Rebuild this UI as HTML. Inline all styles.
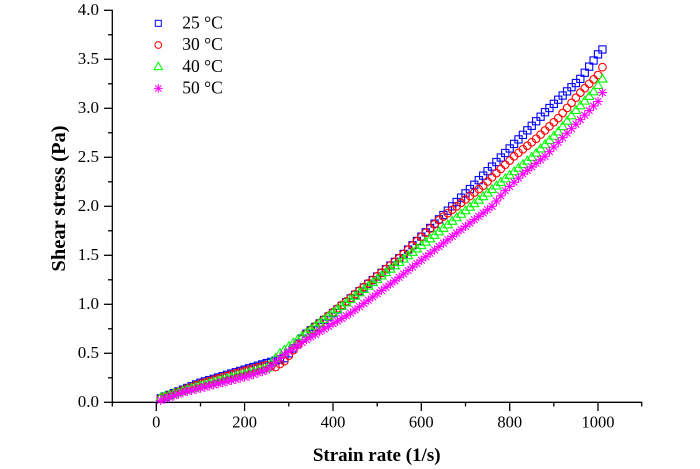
<!DOCTYPE html>
<html><head><meta charset="utf-8"><style>
html,body{margin:0;padding:0;background:#fff;}
svg{display:block;}
text{font-family:"Liberation Serif","Times New Roman",serif;fill:#000;}
</style></head><body>
<svg width="700" height="469" viewBox="0 0 700 469" xmlns="http://www.w3.org/2000/svg">
<defs>
<marker id="ms" markerUnits="userSpaceOnUse" markerWidth="12" markerHeight="12" refX="6" refY="6" viewBox="0 0 12 12" overflow="visible"><rect x="2.4" y="2.4" width="7.2" height="7.2" fill="none" stroke="#0000ff" stroke-width="1.1"/></marker>
<marker id="mc" markerUnits="userSpaceOnUse" markerWidth="12" markerHeight="12" refX="6" refY="6" viewBox="0 0 12 12" overflow="visible"><circle cx="6" cy="6" r="3.8" fill="none" stroke="#ff0000" stroke-width="1.1"/></marker>
<marker id="mt" markerUnits="userSpaceOnUse" markerWidth="12" markerHeight="12" refX="6" refY="6" viewBox="0 0 12 12" overflow="visible"><polygon points="6,1.4 10.5,9.2 1.5,9.2" fill="none" stroke="#00ff00" stroke-width="1.1"/></marker>
<marker id="mx" markerUnits="userSpaceOnUse" markerWidth="12" markerHeight="12" refX="6" refY="6" viewBox="0 0 12 12" overflow="visible"><g stroke="#ff00ff" stroke-width="1.1"><line x1="6" y1="1.3" x2="6" y2="10.7"/><line x1="1.3" y1="6" x2="10.7" y2="6"/><line x1="2.6" y1="2.6" x2="9.4" y2="9.4"/><line x1="2.6" y1="9.4" x2="9.4" y2="2.6"/></g></marker>
</defs>
<rect width="700" height="469" fill="#fff"/>

<!-- axes -->
<g stroke="#000" stroke-width="1.3" fill="none">
<line x1="112.3" y1="9.8" x2="112.3" y2="402.3"/>
<line x1="111.7" y1="402.3" x2="642.3" y2="402.3"/>
<line x1="104" y1="402.3" x2="112.3" y2="402.3"/>
<line x1="104" y1="353.3" x2="112.3" y2="353.3"/>
<line x1="104" y1="304.3" x2="112.3" y2="304.3"/>
<line x1="104" y1="255.3" x2="112.3" y2="255.3"/>
<line x1="104" y1="206.3" x2="112.3" y2="206.3"/>
<line x1="104" y1="157.3" x2="112.3" y2="157.3"/>
<line x1="104" y1="108.3" x2="112.3" y2="108.3"/>
<line x1="104" y1="59.3" x2="112.3" y2="59.3"/>
<line x1="104" y1="10.3" x2="112.3" y2="10.3"/>
<line x1="108" y1="377.8" x2="112.3" y2="377.8"/>
<line x1="108" y1="328.8" x2="112.3" y2="328.8"/>
<line x1="108" y1="279.8" x2="112.3" y2="279.8"/>
<line x1="108" y1="230.8" x2="112.3" y2="230.8"/>
<line x1="108" y1="181.8" x2="112.3" y2="181.8"/>
<line x1="108" y1="132.8" x2="112.3" y2="132.8"/>
<line x1="108" y1="83.8" x2="112.3" y2="83.8"/>
<line x1="108" y1="34.8" x2="112.3" y2="34.8"/>
<line x1="156.3" y1="402.3" x2="156.3" y2="411"/>
<line x1="244.6" y1="402.3" x2="244.6" y2="411"/>
<line x1="333" y1="402.3" x2="333" y2="411"/>
<line x1="421.3" y1="402.3" x2="421.3" y2="411"/>
<line x1="509.7" y1="402.3" x2="509.7" y2="411"/>
<line x1="598" y1="402.3" x2="598" y2="411"/>
<line x1="112.3" y1="402.3" x2="112.3" y2="406.5"/>
<line x1="200.5" y1="402.3" x2="200.5" y2="406.5"/>
<line x1="288.8" y1="402.3" x2="288.8" y2="406.5"/>
<line x1="377.2" y1="402.3" x2="377.2" y2="406.5"/>
<line x1="465.5" y1="402.3" x2="465.5" y2="406.5"/>
<line x1="553.8" y1="402.3" x2="553.8" y2="406.5"/>
<line x1="641.7" y1="402.3" x2="641.7" y2="406.5"/>
</g>

<g font-size="17" text-anchor="end">
<text x="99" y="407">0.0</text>
<text x="99" y="358">0.5</text>
<text x="99" y="309">1.0</text>
<text x="99" y="260">1.5</text>
<text x="99" y="211">2.0</text>
<text x="99" y="162">2.5</text>
<text x="99" y="113">3.0</text>
<text x="99" y="64">3.5</text>
<text x="99" y="15">4.0</text>
</g>
<g font-size="16.5" text-anchor="middle">
<text x="156.3" y="427.5">0</text>
<text x="244.6" y="427.5">200</text>
<text x="333" y="427.5">400</text>
<text x="421.3" y="427.5">600</text>
<text x="509.7" y="427.5">800</text>
<text x="598" y="427.5">1000</text>
</g>

<text x="376.7" y="461" font-size="19" font-weight="bold" text-anchor="middle">Strain rate (1/s)</text>
<text transform="translate(65,198.5) rotate(-90)" x="0" y="0" font-size="20.5" font-weight="bold" text-anchor="middle">Shear stress (Pa)</text>

<path fill="none" stroke="none" marker-start="url(#ms)" marker-mid="url(#ms)" marker-end="url(#ms)" d="M160.72 398.38 l
4.417 -1.742 4.417 -1.742 4.417 -1.742 4.417 -1.742 4.417 -1.742 4.417 -1.742 4.417 -1.742 4.417 -1.742 4.417 -1.742
4.417 -1.307 4.417 -1.307 4.417 -1.307 4.417 -1.307 4.417 -1.307 4.417 -1.307 4.417 -1.307 4.417 -1.307 4.417 -1.307 4.417 -1.307 4.417 -1.307 4.417 -1.307 4.417 -1.307 4.417 -1.307 4.417 -1.307
4.417 -1.225 4.417 -1.225 4.417 -1.225 4.417 -1.225
4.417 -4.9 4.417 -4.9 4.417 -4.9 4.417 -4.9 4.417 -4.9
4.417 -3.43 4.417 -3.43 4.417 -3.43 4.417 -3.43 4.417 -3.43 4.417 -3.43
4.417 -3.659 4.417 -3.659 4.417 -3.659 4.417 -3.659 4.417 -3.659 4.417 -3.659 4.417 -3.659 4.417 -3.659 4.417 -3.659 4.417 -3.659 4.417 -3.659 4.417 -3.659 4.417 -3.659 4.417 -3.659 4.417 -3.659
4.417 -4.324 4.417 -4.324 4.417 -4.324 4.417 -4.324 4.417 -4.324 4.417 -4.324 4.417 -4.324 4.417 -4.324 4.417 -4.324 4.417 -4.324 4.417 -4.324 4.417 -4.324 4.417 -4.324 4.417 -4.324 4.417 -4.324 4.417 -4.324 4.417 -4.324
4.417 -4.533 4.417 -4.533 4.417 -4.533 4.417 -4.533 4.417 -4.533 4.417 -4.533 4.417 -4.533 4.417 -4.533 4.417 -4.533 4.417 -4.533 4.417 -4.533 4.417 -4.533 4.417 -4.533 4.417 -4.533 4.417 -4.533 4.417 -4.533
4.417 -4.165 4.417 -4.165 4.417 -4.165 4.417 -4.165 4.417 -4.165 4.417 -4.165 4.417 -4.165 4.417 -4.165
4.417 -6.125 4.417 -6.125 4.417 -6.125 4.417 -6.125
4.417 -4.9"/>

<path fill="none" stroke="none" marker-start="url(#mc)" marker-mid="url(#mc)" marker-end="url(#mc)" d="M160.72 398.38 l
4.417 -1.633 4.417 -1.633 4.417 -1.633 4.417 -1.633 4.417 -1.633 4.417 -1.633 4.417 -1.633 4.417 -1.633 4.417 -1.633
4.417 -1.307 4.417 -1.307 4.417 -1.307 4.417 -1.307 4.417 -1.307 4.417 -1.307 4.417 -1.307 4.417 -1.307 4.417 -1.307
4.417 -1.143 4.417 -1.143 4.417 -1.143 4.417 -1.143 4.417 -1.143 4.417 -1.143
4.417 0.98 4.417 0.98
4.417 -2.94 4.417 -2.94
4.417 -5.488 4.417 -5.488 4.417 -5.488 4.417 -5.488 4.417 -5.488
4.417 -3.593 4.417 -3.593 4.417 -3.593 4.417 -3.593 4.417 -3.593 4.417 -3.593 4.417 -3.593 4.417 -3.593 4.417 -3.593 4.417 -3.593 4.417 -3.593 4.417 -3.593 4.417 -3.593 4.417 -3.593 4.417 -3.593 4.417 -3.593 4.417 -3.593 4.417 -3.593 4.417 -3.593 4.417 -3.593 4.417 -3.593
4.417 -4.247 4.417 -4.247 4.417 -4.247 4.417 -4.247 4.417 -4.247 4.417 -4.247 4.417 -4.247 4.417 -4.247 4.417 -4.247
4.417 -3.43 4.417 -3.43 4.417 -3.43 4.417 -3.43 4.417 -3.43 4.417 -3.43 4.417 -3.43 4.417 -3.43 4.417 -3.43 4.417 -3.43
4.417 -4.2 4.417 -4.2 4.417 -4.2 4.417 -4.2 4.417 -4.2 4.417 -4.2 4.417 -4.2
4.417 -3.528 4.417 -3.528 4.417 -3.528 4.417 -3.528 4.417 -3.528
4.417 -4.116 4.417 -4.116 4.417 -4.116 4.417 -4.116 4.417 -4.116
4.417 -5.096 4.417 -5.096 4.417 -5.096 4.417 -5.096 4.417 -5.096
4.417 -4.41 4.417 -4.41 4.417 -4.41 4.417 -4.41
4.417 -7.84"/>

<path fill="none" stroke="none" marker-start="url(#mt)" marker-mid="url(#mt)" marker-end="url(#mt)" d="M160.72 397.4 l
4.417 -1.307 4.417 -1.307 4.417 -1.307 4.417 -1.307 4.417 -1.307 4.417 -1.307 4.417 -1.307 4.417 -1.307 4.417 -1.307
4.417 -1.198 4.417 -1.198 4.417 -1.198 4.417 -1.198 4.417 -1.198 4.417 -1.198 4.417 -1.198 4.417 -1.198 4.417 -1.198
4.417 -1.143 4.417 -1.143 4.417 -1.143 4.417 -1.143 4.417 -1.143 4.417 -1.143
4.417 -4.9 4.417 -4.9 4.417 -4.9
4.417 -3.43 4.417 -3.43 4.417 -3.43 4.417 -3.43 4.417 -3.43 4.417 -3.43
4.417 -3.332 4.417 -3.332 4.417 -3.332 4.417 -3.332 4.417 -3.332 4.417 -3.332 4.417 -3.332 4.417 -3.332 4.417 -3.332 4.417 -3.332
4.417 -3.376 4.417 -3.376 4.417 -3.376 4.417 -3.376 4.417 -3.376 4.417 -3.376 4.417 -3.376 4.417 -3.376 4.417 -3.376 4.417 -3.376 4.417 -3.376 4.417 -3.376 4.417 -3.376 4.417 -3.376 4.417 -3.376 4.417 -3.376 4.417 -3.376 4.417 -3.376
4.417 -3.512 4.417 -3.512 4.417 -3.512 4.417 -3.512 4.417 -3.512 4.417 -3.512 4.417 -3.512 4.417 -3.512 4.417 -3.512 4.417 -3.512 4.417 -3.512 4.417 -3.512
4.417 -3.564 4.417 -3.564 4.417 -3.564 4.417 -3.564 4.417 -3.564 4.417 -3.564 4.417 -3.564 4.417 -3.564 4.417 -3.564 4.417 -3.564 4.417 -3.564
4.417 -4.247 4.417 -4.247 4.417 -4.247 4.417 -4.247 4.417 -4.247 4.417 -4.247
4.417 -5.39 4.417 -5.39 4.417 -5.39 4.417 -5.39
4.417 -4.655 4.417 -4.655 4.417 -4.655 4.417 -4.655
4.417 -6.37 4.417 -6.37"/>

<path fill="none" stroke="none" marker-start="url(#mx)" marker-mid="url(#mx)" marker-end="url(#mx)" d="M160.72 400.34 l
4.417 -1.568 4.417 -1.568 4.417 -1.568 4.417 -1.568 4.417 -1.568
4.417 -1.103 4.417 -1.103 4.417 -1.103 4.417 -1.103 4.417 -1.103 4.417 -1.103 4.417 -1.103 4.417 -1.103
4.417 -1.12 4.417 -1.12 4.417 -1.12 4.417 -1.12 4.417 -1.12 4.417 -1.12 4.417 -1.12
4.417 -1.47 4.417 -1.47 4.417 -1.47 4.417 -1.47
4.417 -3.92 4.417 -3.92 4.417 -3.92 4.417 -3.92
4.417 -2.94 4.417 -2.94 4.417 -2.94 4.417 -2.94 4.417 -2.94
4.417 -2.646 4.417 -2.646 4.417 -2.646 4.417 -2.646 4.417 -2.646 4.417 -2.646 4.417 -2.646 4.417 -2.646 4.417 -2.646 4.417 -2.646
4.417 -3.234 4.417 -3.234 4.417 -3.234 4.417 -3.234 4.417 -3.234 4.417 -3.234 4.417 -3.234 4.417 -3.234 4.417 -3.234 4.417 -3.234
4.417 -3.43 4.417 -3.43 4.417 -3.43 4.417 -3.43 4.417 -3.43 4.417 -3.43 4.417 -3.43 4.417 -3.43 4.417 -3.43 4.417 -3.43
4.417 -3.348 4.417 -3.348 4.417 -3.348 4.417 -3.348 4.417 -3.348 4.417 -3.348 4.417 -3.348 4.417 -3.348 4.417 -3.348 4.417 -3.348 4.417 -3.348 4.417 -3.348
4.417 -5.227 4.417 -5.227 4.417 -5.227
4.417 -4.165 4.417 -4.165 4.417 -4.165 4.417 -4.165
4.417 -3.528 4.417 -3.528 4.417 -3.528 4.417 -3.528 4.417 -3.528
4.417 -4.655 4.417 -4.655 4.417 -4.655 4.417 -4.655
4.417 -4.508 4.417 -4.508 4.417 -4.508 4.417 -4.508 4.417 -4.508
4.417 -4.573 4.417 -4.573 4.417 -4.573
4.417 -8.82"/>

<rect x="155.3" y="20.3" width="6" height="6" fill="none" stroke="#0000ff" stroke-width="1"/>
<circle cx="158.3" cy="45" r="3.4" fill="none" stroke="#ff0000" stroke-width="1"/>
<polygon points="158.3,62.2 162.5,69.6 154.1,69.6" fill="none" stroke="#00ff00" stroke-width="1"/>
<g stroke="#ff00ff" stroke-width="1">
<line x1="158.3" y1="84" x2="158.3" y2="92.8"/>
<line x1="153.9" y1="88.4" x2="162.7" y2="88.4"/>
<line x1="155.2" y1="85.3" x2="161.4" y2="91.5"/>
<line x1="155.2" y1="91.5" x2="161.4" y2="85.3"/>
</g>
<g font-size="17.5">
<text x="182.3" y="28.5">25 °C</text>
<text x="182.3" y="50.2">30 °C</text>
<text x="182.3" y="71.9">40 °C</text>
<text x="182.3" y="93.6">50 °C</text>
</g>
</svg>
</body></html>
